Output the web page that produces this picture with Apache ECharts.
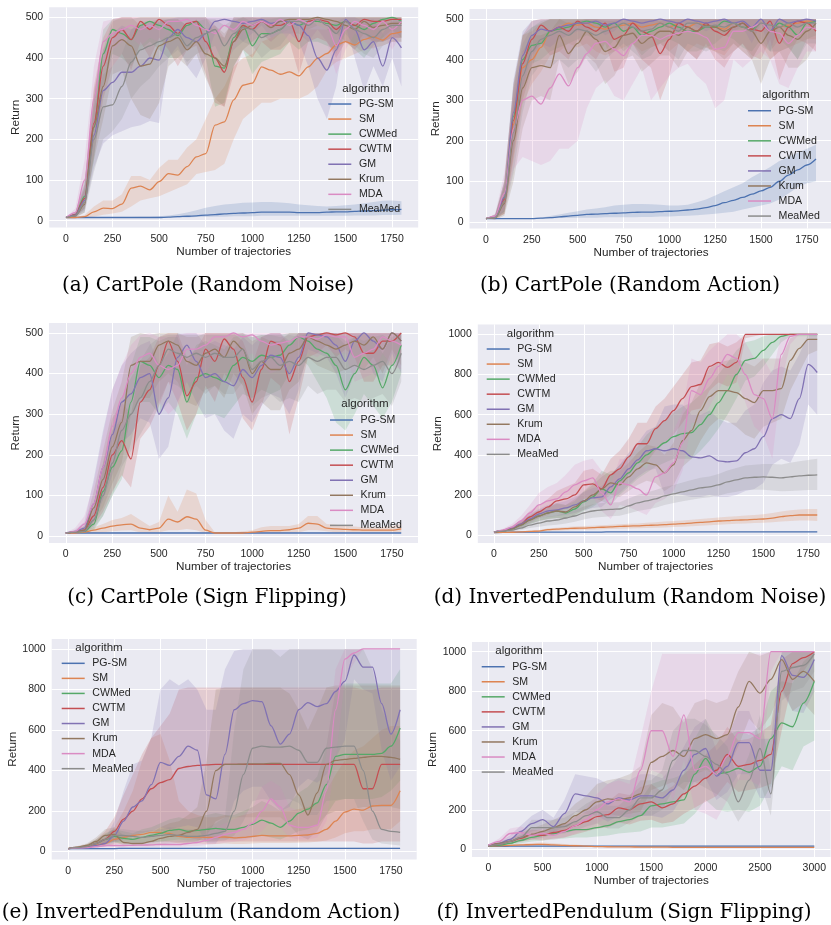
<!DOCTYPE html>
<html><head><meta charset="utf-8">
<script src="https://cdn.jsdelivr.net/npm/echarts@6/dist/echarts.min.js"></script>
<style>html,body{margin:0;padding:0;background:#fff}#c{width:831px;height:925px}</style>
</head><body><div id="c"></div>
<script>
// ---------- shared data ----------
const NAMES = ['PG-SM','SM','CWMed','CWTM','GM','Krum','MDA','MeaMed'];
const COLORS = ['#4C72B0','#DD8452','#55A868','#C44E52','#8172B3','#937860','#DA8BC3','#8C8C8C'];
const X1800 = [0,50,100,150,200,250,300,350,400,450,500,550,600,650,700,750,800,850,900,950,1000,1050,1100,1150,1200,1250,1300,1350,1400,1450,1500,1550,1600,1650,1700,1750,1800];
const X3000 = [0,100,200,300,400,500,600,700,800,900,1000,1100,1200,1300,1400,1500,1600,1700,1800,1900,2000,2100,2200,2300,2400,2500,2600,2700,2800,2900,3000];
const XT1800 = [0,250,500,750,1000,1250,1500,1750];
const XT3000 = [0,500,1000,1500,2000,2500,3000];
const YT500 = [0,100,200,300,400,500];
const YT1000 = [0,200,400,600,800,1000];
const CAPTIONS = ['(a) CartPole (Random Noise)','(b) CartPole (Random Action)','(c) CartPole (Sign Flipping)','(d) InvertedPendulum (Random Noise)','(e) InvertedPendulum (Random Action)','(f) InvertedPendulum (Sign Flipping)'];
const X_TITLE = 'Number of trajectories';
const Y_TITLE = 'Return';
const LEGEND_TITLE = 'algorithm';

// ---------- (a) CartPole Random Noise ----------
const A_PGSM_m = [8,8,8,8,8,8,8,8,8,8,8,9,10,11,12,14,15,17,18,19,20,21,21,21,21,20,20,20,21,22,22,23,24,25,26,27,28];
const A_PGSM_lo = [8,8,8,8,8,8,8,8,8,8,8,8,8,8,9,9,10,10,11,11,11,12,12,12,12,12,12,12,12,12,12,13,13,13,14,14,15];
const A_PGSM_hi = [8,8,8,8,8,9,9,9,10,10,11,13,16,20,26,32,36,40,42,44,45,46,46,45,43,40,38,36,35,36,38,40,43,46,49,50,48];
const A_SM_m = [8,8,10,22,31,30,41,80,85,76,96,116,112,133,157,165,235,243,297,333,338,378,370,360,366,356,378,399,411,432,440,432,446,452,444,460,465];
const A_SM_lo = [8,8,8,10,15,18,22,35,50,55,60,70,80,90,115,120,125,140,200,250,270,290,290,300,300,300,310,330,370,390,400,410,420,425,430,440,440];
const A_SM_hi = [8,8,14,35,50,50,65,110,110,100,130,150,150,180,200,250,300,330,380,400,410,440,450,460,470,470,470,470,470,480,480,480,485,490,490,490,490];
const A_CWMed_m = [8,15,60,230,410,470,460,445,480,490,480,470,455,480,490,470,380,375,450,480,430,460,460,470,490,480,490,490,485,480,490,480,470,485,495,500,490];
const A_CWMed_lo = [8,10,30,150,330,410,400,380,420,440,420,400,400,420,440,400,280,290,380,420,360,390,400,410,440,420,440,440,430,420,440,420,400,430,450,470,450];
const A_CWMed_hi = [8,20,100,300,470,495,495,495,500,500,500,500,500,500,500,500,460,450,500,500,490,500,500,500,500,500,500,500,500,500,500,500,500,500,500,500,500];
const A_CWTM_m = [8,15,55,240,380,450,470,445,490,470,495,480,460,485,490,440,400,365,440,480,470,490,480,480,490,440,490,495,490,470,490,480,495,490,490,495,495];
const A_CWTM_lo = [8,10,30,160,300,380,410,370,440,400,450,420,380,420,430,360,290,280,360,420,400,440,420,420,440,360,440,450,440,400,440,420,450,440,440,450,450];
const A_CWTM_hi = [8,20,90,330,450,495,500,500,500,500,500,500,500,500,500,500,480,450,500,500,500,500,500,500,500,500,500,500,500,500,500,500,500,500,500,500,500];
const A_GM_m = [8,14,50,210,320,340,365,365,380,400,395,450,470,450,440,460,490,495,490,485,490,495,485,490,490,480,455,400,370,420,495,470,420,440,380,450,425];
const A_GM_lo = [8,10,25,130,190,210,220,230,235,245,240,400,430,380,350,400,460,480,460,440,460,480,450,460,460,440,380,300,250,330,480,400,320,380,330,400,330];
const A_GM_hi = [8,20,90,300,420,460,480,470,480,490,490,495,500,500,500,500,500,500,500,500,500,500,500,500,500,500,500,480,470,490,500,500,490,495,460,495,495];
const A_Krum_m = [8,12,40,230,330,430,445,430,380,385,430,440,450,420,440,410,400,380,440,470,480,490,475,490,495,495,495,500,495,490,480,470,490,475,480,485,485];
const A_Krum_lo = [8,8,20,150,250,360,370,300,260,250,290,380,400,380,410,350,300,280,380,420,440,460,440,460,470,470,470,480,470,460,440,430,460,440,440,450,450];
const A_Krum_hi = [8,18,80,320,420,490,500,500,480,470,490,495,495,480,495,470,480,460,490,500,500,500,500,500,500,500,500,500,500,500,500,500,500,500,500,500,500];
const A_MDA_m = [8,20,100,300,440,460,470,480,470,480,470,490,490,495,480,470,460,480,470,490,480,490,480,495,480,495,485,495,480,430,470,490,480,470,490,470,490];
const A_MDA_lo = [8,12,60,220,380,420,440,450,430,450,440,460,460,470,440,420,400,440,420,460,440,460,440,470,440,470,440,470,440,360,420,460,440,420,460,420,460];
const A_MDA_hi = [8,30,150,380,490,495,500,500,500,500,500,500,500,500,500,500,500,500,500,500,500,500,500,500,500,500,500,500,500,500,500,500,500,500,500,500,500];
const A_MeaMed_m = [8,12,45,200,280,285,330,390,420,430,440,450,460,430,450,460,470,430,460,475,470,450,460,470,490,490,480,495,480,460,490,470,460,450,470,480,480];
const A_MeaMed_lo = [8,8,20,120,200,220,250,300,330,350,380,400,420,390,410,420,430,380,420,440,430,400,420,430,460,460,440,470,440,410,460,430,410,400,430,440,440];
const A_MeaMed_hi = [8,18,80,280,360,380,410,470,490,490,495,495,495,480,490,495,495,480,495,500,500,495,495,500,500,500,500,500,500,500,500,500,500,500,500,500,500];

// ---------- (b) CartPole Random Action ----------
const B_PGSM_m = [8,8,8,8,8,8,9,10,12,14,16,18,19,20,21,22,23,24,24,25,26,27,29,31,35,40,47,53,60,68,76,85,100,115,128,140,155];
const B_PGSM_lo = [8,8,8,8,8,8,8,8,9,9,10,10,10,11,11,11,11,12,12,13,13,14,15,16,18,20,22,25,30,35,40,45,55,70,85,95,100];
const B_PGSM_hi = [8,8,8,8,8,9,10,14,18,22,26,30,33,36,40,42,44,44,43,42,40,40,42,48,55,65,75,85,95,110,122,135,150,160,170,180,190];
const B_SM_m = [8,10,50,240,380,400,430,470,480,490,485,490,480,475,480,485,490,480,485,490,480,490,480,490,485,480,475,490,480,470,490,470,480,485,490,495,495];
const B_SM_lo = [8,6,20,150,290,340,370,410,420,440,430,440,420,410,420,430,440,420,430,440,420,440,420,440,430,420,410,440,420,400,440,400,420,430,440,450,450];
const B_SM_hi = [8,15,90,330,460,470,490,500,500,500,500,500,500,500,500,500,500,500,500,500,500,500,500,500,500,500,500,500,500,500,500,500,500,500,500,500,500];
const B_CWMed_m = [8,12,60,260,400,435,440,470,475,480,490,495,490,480,490,470,480,460,470,480,490,480,470,470,480,480,495,490,480,475,490,470,490,480,460,490,495];
const B_CWMed_lo = [8,8,25,170,320,390,400,420,430,440,450,460,450,420,450,420,440,410,430,440,450,440,420,420,430,440,460,450,430,420,450,420,450,430,400,450,460];
const B_CWMed_hi = [8,18,100,340,460,480,490,500,500,500,500,500,500,500,500,500,500,500,500,500,500,500,500,500,500,500,500,500,500,500,500,500,500,500,500,500,500];
const B_CWTM_m = [8,12,55,250,390,450,485,470,480,470,495,480,470,490,450,460,490,470,460,415,450,490,480,470,490,470,460,480,490,475,470,495,440,480,495,490,470];
const B_CWTM_lo = [8,8,20,160,300,380,440,410,420,400,450,420,400,440,370,380,440,400,380,300,360,440,420,400,440,400,380,420,440,410,400,450,350,410,450,440,420];
const B_CWTM_hi = [8,18,100,340,460,495,500,500,500,500,500,500,500,500,500,500,500,500,500,495,500,500,500,500,500,500,500,500,500,500,500,500,500,500,500,500,500];
const B_GM_m = [8,12,60,270,410,460,475,470,480,485,490,490,495,485,490,500,495,490,495,500,495,490,500,495,490,495,500,490,495,480,500,470,500,490,495,500,495];
const B_GM_lo = [8,8,25,180,330,410,440,430,450,460,470,470,480,460,470,490,480,470,480,490,480,470,490,480,470,480,490,470,480,440,490,420,490,470,480,490,480];
const B_GM_hi = [8,18,100,350,470,495,500,500,500,500,500,500,500,500,500,500,500,500,500,500,500,500,500,500,500,500,500,500,500,500,500,500,500,500,500,500,500];
const B_Krum_m = [8,10,45,200,330,380,385,380,460,415,440,470,450,420,430,460,465,440,455,470,470,460,480,470,485,480,470,480,490,470,440,470,480,460,450,470,490];
const B_Krum_lo = [8,5,15,100,230,300,310,300,400,340,370,410,390,340,360,400,410,370,390,410,410,380,420,400,430,420,400,420,440,400,340,400,420,380,380,400,440];
const B_Krum_hi = [8,15,90,300,420,460,460,470,500,490,495,500,500,495,495,500,500,500,500,500,500,500,500,500,500,500,500,500,500,500,500,500,500,500,500,500,500];
const B_MDA_m = [8,14,70,230,300,310,290,330,365,335,380,415,440,445,425,410,440,460,460,450,460,465,470,465,455,425,430,470,470,480,490,470,465,440,460,480,475];
const B_MDA_lo = [8,8,30,130,160,150,140,150,180,180,200,280,330,350,310,300,340,380,300,330,360,380,390,360,340,280,300,400,380,400,420,400,340,330,380,420,420];
const B_MDA_hi = [8,20,120,320,420,440,440,470,490,480,490,500,500,500,500,500,500,500,500,500,500,500,500,500,500,500,500,500,500,500,500,500,500,500,500,500,500];
const B_MeaMed_m = [8,10,50,220,360,420,450,460,470,460,475,470,460,470,480,490,480,470,475,490,480,470,490,490,480,485,480,490,480,470,490,485,480,490,480,490,490];
const B_MeaMed_lo = [8,6,20,120,270,360,390,380,400,380,400,400,370,400,420,440,420,400,410,440,420,400,440,430,420,430,420,440,420,400,440,420,420,430,400,440,440];
const B_MeaMed_hi = [8,15,90,320,440,480,495,500,500,500,500,500,500,500,500,500,500,500,500,500,500,500,500,500,500,500,500,500,500,500,500,500,500,500,500,500,500];

// ---------- (c) CartPole Sign Flipping ----------
const C_PGSM_m = [8,8,8,8,8,8,8,8,8,8,8,8,8,8,8,8,8,8,8,8,8,8,8,8,8,8,8,8,8,8,8,8,8,8,8,8,8];
const C_PGSM_lo = [8,8,8,8,8,8,8,8,8,8,8,8,8,8,8,8,8,8,8,8,8,8,8,8,8,8,8,8,8,8,8,8,8,8,8,8,8];
const C_PGSM_hi = [9,9,9,9,9,9,9,9,9,9,9,9,9,9,9,9,9,9,9,9,9,9,9,9,9,9,9,9,9,9,9,9,9,9,9,9,9];
const C_SM_m = [8,8,10,15,20,25,28,30,20,16,20,42,35,48,42,15,8,8,8,8,10,12,14,14,16,20,32,30,20,18,17,16,15,15,15,15,18];
const C_SM_lo = [8,8,8,8,10,12,14,15,10,9,10,15,15,18,15,8,8,8,8,8,8,8,8,8,9,10,15,15,12,10,10,10,10,10,10,10,10];
const C_SM_hi = [8,8,14,22,30,40,45,55,40,25,35,100,60,115,105,40,10,10,10,12,15,22,25,25,25,30,50,50,30,28,25,24,22,22,22,25,30];
const C_CWMed_m = [8,10,12,30,110,170,210,330,430,420,390,420,410,330,390,400,390,380,420,440,430,445,440,445,470,490,480,460,450,420,360,400,440,420,365,420,470];
const C_CWMed_lo = [8,8,8,15,50,100,140,230,330,330,300,330,300,240,300,300,300,290,320,350,340,360,350,360,400,440,420,380,340,280,260,300,350,320,290,330,400];
const C_CWMed_hi = [8,12,20,60,180,260,290,420,490,490,480,490,490,420,470,480,470,460,490,495,490,495,495,495,500,500,500,500,500,495,470,490,500,490,450,490,500];
const C_CWTM_m = [8,10,15,50,120,200,235,190,330,360,420,480,430,345,380,460,430,485,460,390,330,410,480,470,380,430,490,495,500,495,500,490,450,450,480,480,500];
const C_CWTM_lo = [8,8,8,25,60,110,150,120,240,270,320,380,330,260,300,370,330,400,370,290,260,320,390,370,250,340,440,450,470,440,460,440,380,380,420,420,450];
const C_CWTM_hi = [8,12,25,80,180,290,330,300,420,440,490,500,500,440,460,500,500,500,500,480,420,490,500,500,470,500,500,500,500,500,500,500,500,500,500,500,500];
const C_GM_m = [8,12,20,80,170,250,330,350,390,400,300,340,440,470,430,390,400,380,370,410,390,420,445,440,400,440,500,495,490,470,430,480,500,480,460,500,480];
const C_GM_lo = [8,8,10,35,90,150,230,250,290,280,190,220,330,380,330,290,300,260,240,300,280,320,350,340,300,360,460,450,440,400,340,400,460,400,380,450,400];
const C_GM_hi = [8,16,35,140,260,360,420,450,470,480,420,450,500,500,500,470,480,470,460,490,470,490,500,500,480,500,500,500,500,500,500,500,500,500,500,500,500];
const C_Krum_m = [8,10,15,70,140,220,280,420,430,430,470,480,470,430,420,450,460,440,480,460,400,430,410,410,450,460,490,480,470,460,470,480,470,490,460,500,480];
const C_Krum_lo = [8,8,8,35,70,130,180,300,340,340,380,400,380,330,320,360,370,340,400,370,300,330,310,310,360,380,440,420,410,400,410,420,410,440,400,460,420];
const C_Krum_hi = [8,12,25,110,210,310,380,490,500,495,500,500,500,490,490,500,500,500,500,500,480,490,480,480,500,500,500,500,500,500,500,500,500,500,500,500,500];
const C_MDA_m = [8,12,30,80,170,270,340,400,440,450,420,410,420,460,460,470,490,490,500,490,495,480,470,475,480,490,490,485,495,490,490,440,450,460,490,480,470];
const C_MDA_lo = [8,8,12,40,100,180,250,320,360,380,330,300,320,380,380,400,440,440,460,440,450,420,400,410,420,440,450,440,460,450,450,380,390,400,450,420,410];
const C_MDA_hi = [8,20,50,130,250,360,420,470,495,500,490,490,495,500,500,500,500,500,500,500,500,500,500,500,500,500,500,500,500,500,500,500,500,500,500,500,500];
const C_MeaMed_m = [8,10,12,40,100,180,260,300,340,380,420,460,450,440,450,440,450,440,440,460,410,430,440,420,430,420,440,430,440,440,410,420,410,420,430,400,450];
const C_MeaMed_lo = [8,8,8,20,50,100,170,210,250,290,330,380,370,350,370,350,370,350,350,380,320,340,350,330,340,330,370,350,360,360,330,340,330,340,350,320,380];
const C_MeaMed_hi = [8,12,20,70,160,260,340,390,430,470,490,495,495,495,495,495,495,495,495,500,490,495,495,490,495,490,500,495,500,500,480,490,480,490,495,480,500];

// ---------- (d) InvertedPendulum Random Noise ----------
const D_PGSM_m = [12,13,14,15,15,15,15,15,15,15,15,15,15,16,16,16,16,16,16,16,16,16,16,16,16,16,16,16,16,16,16,16,16,16,16,16,16];
const D_PGSM_lo = [10,11,12,13,13,13,13,13,13,13,13,13,13,14,14,14,14,14,14,14,14,14,14,14,14,14,14,14,14,14,14,14,14,14,14,14,14];
const D_PGSM_hi = [14,15,16,17,17,17,17,17,17,17,17,17,17,18,18,18,18,18,18,18,18,18,18,18,18,18,18,18,18,18,18,18,18,18,18,18,18];
const D_SM_m = [12,13,14,16,18,20,27,30,32,34,35,37,39,41,43,45,46,48,50,52,55,57,60,63,66,70,72,74,76,78,80,84,92,97,100,100,100];
const D_SM_lo = [10,11,12,13,14,16,20,22,24,25,26,27,29,30,32,33,34,35,36,38,40,42,44,46,49,52,54,56,58,60,62,64,68,70,72,72,70];
const D_SM_hi = [14,15,17,19,22,25,33,37,40,43,45,47,49,52,54,56,58,61,64,67,70,73,76,80,84,88,91,94,97,100,104,110,118,124,128,130,130];
const D_CWMed_m = [15,20,30,50,75,95,110,120,110,130,165,190,230,210,270,310,360,400,430,460,490,505,510,550,600,660,720,800,870,880,920,960,990,1000,1000,1000,1000];
const D_CWMed_lo = [12,15,20,35,55,70,80,85,80,95,120,140,170,150,200,240,280,310,340,360,380,380,380,420,470,530,600,680,770,790,840,900,960,990,990,990,990];
const D_CWMed_hi = [18,25,40,70,100,125,140,160,150,170,220,260,320,300,350,390,440,500,540,570,610,640,660,700,740,800,860,920,960,970,990,1000,1000,1000,1000,1000,1000];
const D_CWTM_m = [15,22,35,55,90,115,140,170,180,200,250,255,230,300,330,390,455,455,530,570,620,680,740,750,840,860,835,860,1000,1000,1000,1000,1000,1000,1000,1000,1000];
const D_CWTM_lo = [12,16,25,40,65,85,100,120,130,140,180,190,170,220,250,300,360,360,420,460,500,560,620,630,720,760,740,760,980,990,1000,1000,1000,1000,1000,1000,1000];
const D_CWTM_hi = [18,28,45,75,120,150,180,220,240,260,320,330,300,380,420,480,560,560,640,680,740,800,860,870,950,960,940,960,1000,1000,1000,1000,1000,1000,1000,1000,1000];
const D_GM_m = [15,22,35,55,80,105,120,125,135,150,170,185,190,240,280,330,375,420,430,420,430,420,390,385,395,370,365,370,410,430,490,580,600,580,680,850,810];
const D_GM_lo = [12,16,25,40,60,80,90,95,100,110,125,135,140,180,210,250,290,320,330,200,210,200,190,190,200,190,190,200,220,230,260,350,380,360,450,650,600];
const D_GM_hi = [18,28,45,75,105,130,150,160,170,190,215,235,245,300,350,410,460,520,540,640,650,650,600,600,620,580,560,560,620,650,760,820,840,820,900,1000,1000];
const D_Krum_m = [15,20,30,50,75,95,110,120,115,140,170,200,230,260,250,290,330,360,350,310,350,470,520,620,690,720,720,710,680,660,720,720,730,870,930,975,975];
const D_Krum_lo = [12,15,20,35,55,70,80,85,80,100,125,150,170,200,190,220,250,270,260,220,250,340,380,470,540,580,570,540,500,480,540,560,580,720,810,900,920];
const D_Krum_hi = [18,25,40,65,95,120,140,155,150,180,215,250,290,320,320,360,410,450,440,400,460,600,660,760,830,860,870,880,860,840,880,880,880,980,1000,1000,1000];
const D_MDA_m = [15,25,40,70,110,150,170,180,215,250,270,285,210,150,260,250,230,200,290,310,360,460,720,700,780,840,900,880,800,700,680,580,900,990,1000,1000,1000];
const D_MDA_lo = [12,18,28,45,70,100,110,115,140,160,180,190,120,80,150,140,120,100,160,180,220,320,560,560,640,720,800,780,660,540,500,380,760,950,1000,1000,1000];
const D_MDA_hi = [18,32,55,95,150,210,240,260,300,350,370,380,320,250,380,380,360,330,440,460,520,620,880,860,920,960,1000,1000,960,880,880,800,1000,1000,1000,1000,1000];
const D_MeaMed_m = [15,20,25,35,50,60,70,75,85,95,110,120,125,128,130,145,160,170,180,195,205,215,225,235,240,250,265,275,285,288,290,288,285,290,295,298,300];
const D_MeaMed_lo = [12,15,18,25,35,42,48,52,58,66,78,86,90,94,96,108,120,128,136,150,160,168,176,184,188,196,208,216,224,226,226,222,218,220,222,224,225];
const D_MeaMed_hi = [18,25,32,45,65,78,92,98,112,124,142,154,160,162,164,182,200,212,224,240,250,262,274,286,292,304,322,334,346,350,354,354,352,360,368,374,380];

// ---------- (e) InvertedPendulum Random Action ----------
const E_PGSM_m = [15,15,15,15,15,15,16,16,16,16,16,16,16,16,16,16,16,16,16,16,16,16,16,16,16,16,16,16,16,16,16,16,16,16,16,16,16];
const E_PGSM_lo = [12,12,12,12,12,12,13,13,13,13,13,13,13,13,13,13,13,13,13,13,13,13,13,13,13,13,13,13,13,13,13,13,13,13,13,13,13];
const E_PGSM_hi = [18,18,18,18,18,18,19,19,19,19,19,19,19,19,19,19,19,19,19,19,19,19,19,19,19,19,19,19,19,19,19,19,19,19,19,19,19];
const E_SM_m = [15,20,25,32,40,60,70,80,85,95,95,90,75,70,72,70,70,72,68,70,75,80,78,78,78,80,82,90,110,150,195,210,205,225,228,228,300];
const E_SM_lo = [12,15,18,20,25,35,40,45,45,50,50,48,40,38,40,38,38,40,38,38,40,42,42,42,42,44,45,48,55,70,90,100,100,110,110,110,150];
const E_SM_hi = [18,25,35,50,70,120,200,300,450,560,580,450,250,200,180,170,170,180,170,180,190,200,200,200,200,210,220,240,300,380,450,500,520,560,600,620,620];
const E_CWMed_m = [15,20,25,40,60,75,65,60,70,80,90,105,110,100,105,110,115,110,110,120,135,155,140,120,150,190,210,240,330,470,480,480,480,480,485,520,610];
const E_CWMed_lo = [12,15,18,25,35,45,40,35,40,45,50,55,60,55,55,60,60,60,60,65,70,80,70,60,80,100,110,130,180,250,260,260,260,260,270,300,350];
const E_CWMed_hi = [18,25,35,60,90,110,100,90,110,120,140,160,170,160,170,180,190,180,180,200,220,250,230,200,240,290,320,370,520,800,830,830,830,830,830,830,900];
const E_CWTM_m = [15,20,25,40,60,100,160,200,260,310,340,355,410,420,425,428,430,430,430,430,430,430,430,430,430,430,430,430,430,430,430,430,310,310,430,430,430];
const E_CWTM_lo = [12,15,18,25,35,50,70,80,90,100,100,90,80,70,60,50,50,50,50,50,50,50,50,50,50,50,50,50,50,50,50,50,40,40,50,50,50];
const E_CWTM_hi = [18,25,35,60,100,170,280,380,480,560,620,680,800,810,810,810,810,810,810,810,810,810,810,810,810,810,810,810,810,810,810,810,800,800,810,810,810];
const E_GM_m = [15,18,20,30,40,80,150,220,250,330,440,425,470,520,500,280,260,480,700,730,745,740,620,530,580,700,735,715,730,790,840,970,910,910,730,580,700];
const E_GM_lo = [12,14,15,20,25,40,60,80,90,100,120,110,120,130,120,40,40,100,250,300,320,320,250,200,220,320,360,340,380,460,550,850,800,780,500,350,420];
const E_GM_hi = [18,22,28,45,65,150,300,430,450,560,800,850,820,850,800,700,700,900,990,1000,1000,1000,1000,1000,1000,1000,1000,1000,1000,1000,1000,1000,1000,1000,1000,1000,1000];
const E_Krum_m = [15,22,30,50,80,85,45,40,40,50,65,75,80,95,110,200,400,430,430,432,433,433,435,435,380,280,180,290,430,450,455,460,465,470,470,465,455];
const E_Krum_lo = [12,16,20,30,45,50,30,28,28,30,35,40,42,45,50,80,150,170,170,170,170,170,170,170,130,80,60,100,180,200,200,210,220,220,220,220,210];
const E_Krum_hi = [18,28,40,70,110,120,80,70,70,90,120,140,150,180,220,450,800,810,810,810,810,810,810,810,780,700,600,700,810,820,820,820,820,820,820,820,820];
const E_MDA_m = [15,18,20,25,30,30,30,31,32,33,35,35,35,40,45,55,70,85,95,110,140,200,260,220,130,120,120,130,300,700,950,980,1000,1000,1000,1000,1000];
const E_MDA_lo = [12,14,15,18,20,20,20,21,22,23,24,24,24,26,28,32,38,44,48,55,70,100,150,120,70,60,60,70,150,450,850,930,1000,1000,1000,1000,1000];
const E_MDA_hi = [18,22,26,32,40,42,42,44,46,48,50,52,54,60,70,90,120,140,160,180,220,320,350,320,220,200,200,220,480,900,1000,1000,1000,1000,1000,1000,1000];
const E_MeaMed_m = [15,20,25,40,60,80,80,75,70,75,80,85,80,75,75,80,90,100,200,380,510,520,515,515,520,500,440,440,510,515,520,520,400,200,110,100,95];
const E_MeaMed_lo = [12,15,18,28,40,50,48,45,42,45,48,50,48,45,45,48,50,55,80,150,250,260,255,255,260,240,180,180,250,255,260,260,150,60,40,35,30];
const E_MeaMed_hi = [18,25,35,55,85,110,110,105,100,105,110,120,115,110,110,115,140,170,600,900,1000,1000,1000,960,1000,1000,1000,1000,1000,1000,1000,1000,1000,900,700,600,550];

// ---------- (f) InvertedPendulum Sign Flipping (x step 100) ----------
const F_PGSM_m = [15,15,16,16,16,16,16,16,16,16,16,16,16,16,16,16,16,16,16,16,16,16,16,16,16,16,16,16,16,16,16];
const F_PGSM_lo = [13,13,14,14,14,14,14,14,14,14,14,14,14,14,14,14,14,14,14,14,14,14,14,14,14,14,14,14,14,14,14];
const F_PGSM_hi = [17,17,18,18,18,18,18,18,18,18,18,18,18,18,18,18,18,18,18,18,18,18,18,18,18,18,18,18,18,18,18];
const F_SM_m = [15,17,20,22,24,25,22,20,18,16,14,13,12,12,11,11,11,10,10,10,10,10,10,10,10,10,10,10,10,10,10];
const F_SM_lo = [12,14,16,17,18,18,16,14,13,12,11,10,10,9,9,9,9,8,8,8,8,8,8,8,8,8,8,8,8,8,8];
const F_SM_hi = [18,20,25,28,32,34,30,27,24,21,18,17,16,15,14,14,14,13,13,13,13,13,13,13,13,13,13,13,13,13,13];
const F_CWMed_m = [15,20,30,45,60,70,80,90,100,100,110,120,140,150,170,220,230,240,250,380,460,380,390,410,390,420,560,640,620,740,850];
const F_CWMed_lo = [12,15,20,30,40,45,50,55,60,60,65,70,80,85,90,110,110,120,130,180,250,200,190,200,190,220,320,420,400,520,550];
const F_CWMed_hi = [18,25,40,60,80,95,110,125,140,140,160,175,200,220,250,330,350,360,380,560,660,560,580,600,580,620,800,850,840,950,1000];
const F_CWTM_m = [15,25,40,55,75,70,85,95,120,140,165,175,210,200,230,240,210,230,280,320,360,400,480,420,430,450,480,800,940,970,1000];
const F_CWTM_lo = [12,18,28,38,50,45,55,60,75,90,105,110,135,125,145,150,130,140,180,210,240,270,340,290,300,310,330,600,850,900,980];
const F_CWTM_hi = [18,32,52,72,100,95,115,130,165,190,225,240,285,275,315,330,290,320,380,430,480,530,620,550,560,590,630,960,1000,1000,1000];
const F_GM_m = [20,30,50,90,130,150,115,180,280,270,260,230,260,250,270,270,260,300,400,480,510,370,420,540,540,400,400,980,880,870,960];
const F_GM_lo = [15,22,35,60,90,100,80,120,190,180,170,140,170,160,170,170,160,190,280,340,360,250,290,380,380,260,260,800,700,690,800];
const F_GM_hi = [25,40,70,120,170,200,160,250,380,370,360,330,360,350,380,380,360,420,520,620,660,500,560,700,700,560,560,1000,1000,1000,1000];
const F_Krum_m = [20,30,40,60,75,90,110,130,170,200,240,255,250,260,280,440,470,500,470,560,580,560,580,720,850,790,860,960,860,900,850];
const F_Krum_lo = [15,22,28,40,50,60,75,90,120,140,170,180,170,180,190,300,320,340,300,380,400,380,400,520,660,600,680,820,700,740,680];
const F_Krum_hi = [25,40,55,85,105,125,150,175,230,270,330,350,360,380,420,680,740,720,640,740,760,740,760,900,1000,980,1000,1000,1000,1000,1000];
const F_MDA_m = [20,40,80,85,70,80,70,90,120,150,200,240,255,240,400,600,600,470,680,400,420,380,470,590,590,560,1000,1000,1000,1000,1000];
const F_MDA_lo = [15,28,55,60,50,55,50,60,80,100,130,160,170,160,260,400,380,250,450,200,180,150,250,350,350,320,900,1000,1000,1000,1000];
const F_MDA_hi = [25,55,105,115,95,105,95,125,165,210,280,330,350,330,560,800,990,990,990,990,990,990,990,990,990,990,1000,1000,1000,1000,1000];
const F_MeaMed_m = [15,25,40,60,110,110,110,115,140,170,190,160,160,200,260,260,300,450,500,500,470,430,380,240,350,510,280,900,920,930,990];
const F_MeaMed_lo = [12,18,28,40,75,75,75,80,95,115,130,105,105,135,170,170,200,300,340,340,310,280,240,140,220,340,170,750,800,820,900];
const F_MeaMed_hi = [18,32,52,80,150,150,150,160,190,230,260,220,220,270,350,350,400,600,660,660,630,580,520,350,480,680,400,1000,1000,1000,1000];

// ---------- assemble ----------
const PANEL_DATA = [
  {x: X1800, m:[A_PGSM_m,A_SM_m,A_CWMed_m,A_CWTM_m,A_GM_m,A_Krum_m,A_MDA_m,A_MeaMed_m], lo:[A_PGSM_lo,A_SM_lo,A_CWMed_lo,A_CWTM_lo,A_GM_lo,A_Krum_lo,A_MDA_lo,A_MeaMed_lo], hi:[A_PGSM_hi,A_SM_hi,A_CWMed_hi,A_CWTM_hi,A_GM_hi,A_Krum_hi,A_MDA_hi,A_MeaMed_hi]},
  {x: X1800, m:[B_PGSM_m,B_SM_m,B_CWMed_m,B_CWTM_m,B_GM_m,B_Krum_m,B_MDA_m,B_MeaMed_m], lo:[B_PGSM_lo,B_SM_lo,B_CWMed_lo,B_CWTM_lo,B_GM_lo,B_Krum_lo,B_MDA_lo,B_MeaMed_lo], hi:[B_PGSM_hi,B_SM_hi,B_CWMed_hi,B_CWTM_hi,B_GM_hi,B_Krum_hi,B_MDA_hi,B_MeaMed_hi]},
  {x: X1800, m:[C_PGSM_m,C_SM_m,C_CWMed_m,C_CWTM_m,C_GM_m,C_Krum_m,C_MDA_m,C_MeaMed_m], lo:[C_PGSM_lo,C_SM_lo,C_CWMed_lo,C_CWTM_lo,C_GM_lo,C_Krum_lo,C_MDA_lo,C_MeaMed_lo], hi:[C_PGSM_hi,C_SM_hi,C_CWMed_hi,C_CWTM_hi,C_GM_hi,C_Krum_hi,C_MDA_hi,C_MeaMed_hi]},
  {x: X1800, m:[D_PGSM_m,D_SM_m,D_CWMed_m,D_CWTM_m,D_GM_m,D_Krum_m,D_MDA_m,D_MeaMed_m], lo:[D_PGSM_lo,D_SM_lo,D_CWMed_lo,D_CWTM_lo,D_GM_lo,D_Krum_lo,D_MDA_lo,D_MeaMed_lo], hi:[D_PGSM_hi,D_SM_hi,D_CWMed_hi,D_CWTM_hi,D_GM_hi,D_Krum_hi,D_MDA_hi,D_MeaMed_hi]},
  {x: X1800, m:[E_PGSM_m,E_SM_m,E_CWMed_m,E_CWTM_m,E_GM_m,E_Krum_m,E_MDA_m,E_MeaMed_m], lo:[E_PGSM_lo,E_SM_lo,E_CWMed_lo,E_CWTM_lo,E_GM_lo,E_Krum_lo,E_MDA_lo,E_MeaMed_lo], hi:[E_PGSM_hi,E_SM_hi,E_CWMed_hi,E_CWTM_hi,E_GM_hi,E_Krum_hi,E_MDA_hi,E_MeaMed_hi]},
  {x: X3000, m:[F_PGSM_m,F_SM_m,F_CWMed_m,F_CWTM_m,F_GM_m,F_Krum_m,F_MDA_m,F_MeaMed_m], lo:[F_PGSM_lo,F_SM_lo,F_CWMed_lo,F_CWTM_lo,F_GM_lo,F_Krum_lo,F_MDA_lo,F_MeaMed_lo], hi:[F_PGSM_hi,F_SM_hi,F_CWMed_hi,F_CWTM_hi,F_GM_hi,F_Krum_hi,F_MDA_hi,F_MeaMed_hi]}
];

// layout (pixels) – kept separate from the data
const LAYOUT = [
  {g:[49.2,7.3,369,220.2], xr:[-90,1890], yr:[-16.6,524.6], xt:XT1800, yt:YT500, yGap:26.7, leg:[328.3,96.5], lt:[366,89.3], cap:[208,286]},
  {g:[469.5,9.1,363,219.4], xr:[-90,1890], yr:[-16.6,524.6], xt:XT1800, yt:YT500, yGap:26.8, leg:[748,103.2], lt:[786,95], cap:[630,286]},
  {g:[49,322.9,369,220.1], xr:[-90,1890], yr:[-16.6,524.6], xt:XT1800, yt:YT500, yGap:26.3, leg:[330,412.5], lt:[365,404], cap:[207,598]},
  {g:[477.8,324.4,355.6,218.6], xr:[-90,1890], yr:[-39.5,1049.5], xt:XT1800, yt:YT1000, yGap:33.8, leg:[486.7,341.5], lt:[530.5,334.3], cap:[630,598]},
  {g:[51.7,638.9,365,220.7], xr:[-90,1890], yr:[-39.5,1049.5], xt:XT1800, yt:YT1000, yGap:33.2, leg:[61.7,655.8], lt:[99,648.3], cap:[201,913]},
  {g:[472,641.9,358.6,215.2], xr:[-150,3150], yr:[-39.5,1049.5], xt:XT3000, yt:YT1000, yGap:33.5, leg:[481.7,659.2], lt:[519,651], cap:[624,913]}
];

const SANS = '"Liberation Sans", Arial, sans-serif';
const TXT = '#262626';
const plain = function(v){ return String(v); };
const option = {animation:false, grid:[], xAxis:[], yAxis:[], series:[], legend:[], graphic:[]};

LAYOUT.forEach(function(L, p){
  const D = PANEL_DATA[p];
  option.grid.push({left:L.g[0], top:L.g[1], width:L.g[2], height:L.g[3], show:true, backgroundColor:'#EAEAF2', borderWidth:0, containLabel:false, outerBoundsMode:'none'});
  option.xAxis.push({type:'value', gridIndex:p, min:L.xr[0], max:L.xr[1],
    axisLine:{show:false}, axisTick:{show:false, customValues:L.xt},
    axisLabel:{customValues:L.xt, formatter:plain, margin:6, fontSize:10.5, fontFamily:SANS, color:TXT},
    splitLine:{show:true, lineStyle:{color:'#ffffff', width:1}},
    name:X_TITLE, nameLocation:'middle', nameGap:17, nameTextStyle:{fontSize:11.7, fontFamily:SANS, color:TXT}});
  option.yAxis.push({type:'value', gridIndex:p, min:L.yr[0], max:L.yr[1],
    axisLine:{show:false}, axisTick:{show:false, customValues:L.yt},
    axisLabel:{customValues:L.yt, formatter:plain, margin:6, fontSize:10.5, fontFamily:SANS, color:TXT},
    splitLine:{show:true, lineStyle:{color:'#ffffff', width:1}},
    name:Y_TITLE, nameLocation:'middle', nameGap:L.yGap, nameTextStyle:{fontSize:11.7, fontFamily:SANS, color:TXT}});
  NAMES.forEach(function(nm, k){
    const xs = D.x, lo = D.lo[k], hi = D.hi[k], mn = D.m[k];
    option.series.push({
      type:'custom', name: nm + ' band ' + p, xAxisIndex:p, yAxisIndex:p, silent:true,
      data: xs.map(function(x,i){ return [x, lo[i], hi[i]]; }),
      encode:{x:0, y:[1,2]},
      renderItem: function(params, api){
        if (params.dataIndex !== 0) return null;
        const pts = [];
        for (let i = 0; i < xs.length; i++) pts.push(api.coord([xs[i], hi[i]]));
        for (let i = xs.length - 1; i >= 0; i--) pts.push(api.coord([xs[i], lo[i]]));
        return {type:'polygon', shape:{points:pts}, style:{fill:COLORS[k], opacity:0.2}};
      }
    });
    option.series.push({
      type:'line', name:nm, xAxisIndex:p, yAxisIndex:p, color:COLORS[k],
      data: xs.map(function(x,i){ return [x, mn[i]]; }),
      symbol:'none', smooth:0.3, smoothMonotone:'x',
      lineStyle:{width:1.3, color:COLORS[k]}
    });
  });
  option.legend.push({data:NAMES, orient:'vertical', left:L.leg[0], top:L.leg[1], padding:0, itemGap:0, z:50,
    icon:'rect', itemWidth:23, itemHeight:1.5, selectedMode:false, backgroundColor:'transparent',
    itemStyle:{borderWidth:0},
    textStyle:{fontSize:10.6, fontFamily:SANS, color:TXT, lineHeight:15.05, padding:[0,0,0,2.6]}});
  option.graphic.push({type:'text', x:L.lt[0], y:L.lt[1], silent:true, z:100, zlevel:0,
    style:{text:LEGEND_TITLE, font:'11.5px ' + SANS, fill:TXT, textAlign:'center', textVerticalAlign:'middle'}});
  option.graphic.push({type:'text', x:L.cap[0], y:L.cap[1], silent:true, z:100,
    style:{text:CAPTIONS[p], font:'20px "DejaVu Serif", serif', fill:'#000', textAlign:'center', textVerticalAlign:'middle'}});
});

const chart = echarts.init(document.getElementById('c'), null, {renderer:'canvas'});
chart.setOption(option);
</script>
</body></html>
